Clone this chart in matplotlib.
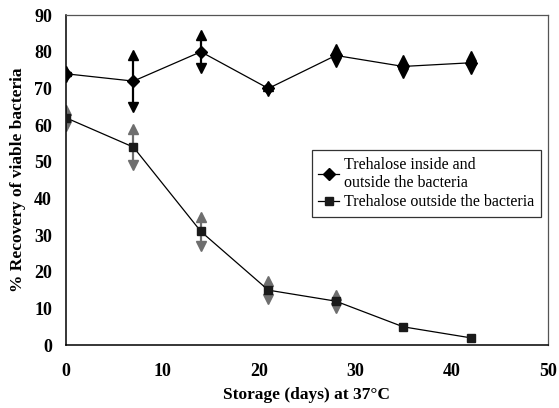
import matplotlib.pyplot as plt
import numpy as np

# Data
days = [0, 7, 14, 21, 28, 35, 42]
inside_outside = [74, 72, 80, 70, 79, 76, 77]
inside_outside_err = [0.8, 7, 4.5, 0.8, 1.8, 1.8, 1.8]
outside_only = [62, 54, 31, 15, 12, 5, 2]
outside_only_err = [2.2, 5, 4, 2.5, 1.8, 0, 0]

plt.rcParams['font.family'] = ['Liberation Serif', 'DejaVu Serif']

fig = plt.figure(figsize=(5.59, 4.08), dpi=100)
ax = fig.add_axes([0.118, 0.154, 0.862, 0.809])


def arrow_bars(x, y, err, color):
    x = np.array(x)
    y = np.array(y)
    err = np.array(err)
    keep = err > 0
    ax.vlines(x[keep], (y - err)[keep], (y + err)[keep], color=color, lw=1.6, zorder=2)
    ax.plot(x[keep], (y + err)[keep], linestyle='none', marker='^', ms=7.5,
            color=color, zorder=2)
    ax.plot(x[keep], (y - err)[keep], linestyle='none', marker='v', ms=7.5,
            color=color, zorder=2)


arrow_bars(days, inside_outside, inside_outside_err, 'black')
arrow_bars(days, outside_only, outside_only_err, '#6e6e6e')

ax.plot(days, inside_outside, color='black', lw=0.9, marker='D', ms=6,
        mfc='black', mec='black', zorder=3,
        label='Trehalose inside and\noutside the bacteria')
ax.plot(days, outside_only, color='black', lw=0.9, marker='s', ms=6,
        mfc='#1a1a1a', mec='#1a1a1a', zorder=3,
        label='Trehalose outside the bacteria')

ax.set_xlim(0, 49.7)
ax.set_ylim(0, 90)
ax.set_xticks([0, 10, 20, 30, 40, 50])
ax.set_yticks(range(0, 91, 10))
ax.tick_params(axis='both', length=0, labelsize=13)
ax.tick_params(axis='x', pad=13)
ax.tick_params(axis='y', pad=10)
for lab in ax.get_xticklabels() + ax.get_yticklabels():
    lab.set_fontweight('bold')
ax.get_xticklabels()[-1].set_clip_on(False)

for side in ['top', 'right']:
    ax.spines[side].set_color('#555555')
    ax.spines[side].set_linewidth(0.9)
for side in ['left', 'bottom']:
    ax.spines[side].set_color('black')
    ax.spines[side].set_linewidth(1.1)

ax.set_xlabel('Storage (days) at 37°C', fontsize=12.5, fontweight='bold', labelpad=5)
ax.set_ylabel('% Recovery of viable bacteria', fontsize=12.5, fontweight='bold', labelpad=6)

leg = ax.legend(loc='upper right', bbox_to_anchor=(0.985, 0.59), fontsize=11.5,
                frameon=True, fancybox=False, edgecolor='black', handlelength=1.3,
                handletextpad=0.3, borderpad=0.4, labelspacing=0.2, borderaxespad=0)
leg.get_frame().set_linewidth(0.9)

fig.savefig('out.png', dpi=100)
